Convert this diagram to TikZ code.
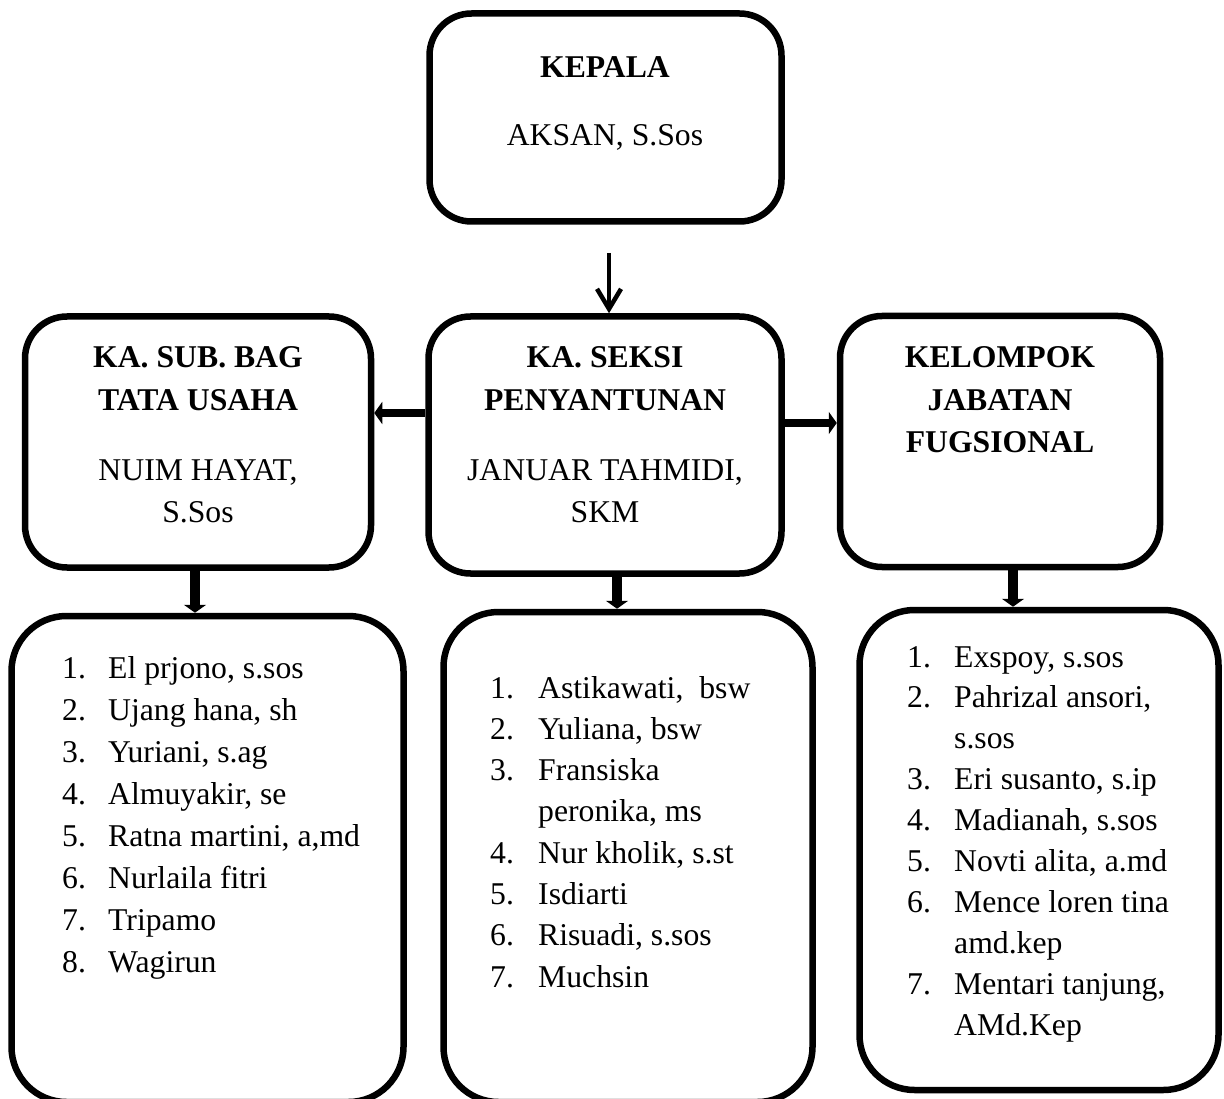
\documentclass[tikz,border=0pt]{standalone}
\usepackage{fontspec}
\setmainfont{Liberation Serif}
\usetikzlibrary{arrows.meta}
\newcommand\fsz{\fontsize{31.7}{42}\selectfont}
\begin{document}
\begin{tikzpicture}[x=1pt,y=-1pt,
  box/.style={draw, line width=6.5pt, rounded corners=42pt, inner sep=0pt, rectangle},
  lbox/.style={box, rounded corners=55pt},
  txt/.style={font=\fsz, anchor=base, inner sep=0pt},
  btxt/.style={font=\fsz\bfseries, anchor=base, inner sep=0pt},
  ltxt/.style={font=\fsz, anchor=base west, inner sep=0pt},
  thinarr/.style={line width=4.5pt, -{Straight Barb[length=20pt,width=24pt]}},
  fat/.style={line width=8pt, -{Triangle[length=8pt,width=22pt]}},
  fatv/.style={line width=10pt, -{Triangle[length=8pt,width=22pt]}}]
\useasboundingbox (0,0) rectangle (1224,1099);

% boxes
\node[box, minimum width=352pt, minimum height=208pt] (kepala) at (605.5,117.5) {};
\node[box, minimum width=346pt, minimum height=251pt] (sub) at (198,442) {};
\node[box, minimum width=353pt, minimum height=257pt] (seksi) at (605,445) {};
\node[box, minimum width=320pt, minimum height=251pt] (fung) at (1000,441.5) {};
\node[lbox, minimum width=392pt, minimum height=486pt] (list1) at (207.5,859) {};
\node[lbox, minimum width=369pt, minimum height=490pt] (list2) at (628,857) {};
\node[lbox, minimum width=359pt, minimum height=480pt] (list3) at (1039,850) {};

% heading texts
\node[btxt] (kt1) at (605,78) {KEPALA};
\node[txt] (kt2) at (605,146) {AKSAN, S.Sos};

\node[btxt] (st1) at (198,368) {KA. SUB. BAG};
\node[btxt] (st2) at (198,410) {TATA USAHA};
\node[txt] (st3) at (198,480) {NUIM HAYAT,};
\node[txt] (st4) at (198,522) {S.Sos};

\node[btxt] (pt1) at (605,368) {KA. SEKSI};
\node[btxt] (pt2) at (605,410) {PENYANTUNAN};
\node[txt] (pt3) at (605,480) {JANUAR TAHMIDI,};
\node[txt] (pt4) at (605,522) {SKM};

\node[btxt] (ft1) at (1000,368) {KELOMPOK};
\node[btxt] (ft2) at (1000,410) {JABATAN};
\node[btxt] (ft3) at (1000,452) {FUGSIONAL};

% lists
\foreach \n/\t [count=\k from 0] in {1./{El prjono, s.sos},2./{Ujang hana, sh},3./{Yuriani, s.ag},4./{Almuyakir, se},5./{Ratna martini, a,md},6./{Nurlaila fitri},7./{Tripamo},8./{Wagirun}}{
  \node[ltxt] (la\k) at (62,{678+42.1*\k}) {\n};
  \node[ltxt] (lb\k) at (108,{678+42.1*\k}) {\t};
}
\foreach \n/\t [count=\k from 0] in {1./{Astikawati,\ \ bsw},2./{Yuliana, bsw},3./{Fransiska},{}/{peronika, ms},4./{Nur kholik, s.st},5./{Isdiarti},6./{Risuadi, s.sos},7./{Muchsin}}{
  \node[ltxt] (ma\k) at (490,{698+41.3*\k}) {\n};
  \node[ltxt] (mb\k) at (538,{698+41.3*\k}) {\t};
}
\foreach \n/\t [count=\k from 0] in {1./{Exspoy, s.sos},2./{Pahrizal ansori,},{}/{s.sos},3./{Eri susanto, s.ip},4./{Madianah, s.sos},5./{Novti alita, a.md},6./{Mence loren tina},{}/{amd.kep},7./{Mentari tanjung,},{}/{AMd.Kep}}{
  \node[ltxt] (ra\k) at (907,{667+40.9*\k}) {\n};
  \node[ltxt] (rb\k) at (954,{667+40.9*\k}) {\t};
}

% connectors
\coordinate (ka) at (609,253);
\draw[thinarr] (ka) -- (seksi.north -| ka);
\coordinate (yl) at (0,413);
\draw[fat] (seksi.west |- yl) -- (sub.east |- yl);
\coordinate (yr) at (0,423);
\draw[fat] (seksi.east |- yr) -- (fung.west |- yr);
\coordinate (x1) at (195,0);
\draw[fatv] (sub.south -| x1) -- (list1.north -| x1);
\coordinate (x2) at (617,0);
\draw[fatv] (seksi.south -| x2) -- (list2.north -| x2);
\coordinate (x3) at (1013,0);
\draw[fatv] (fung.south -| x3) -- (list3.north -| x3);
\end{tikzpicture}
\end{document}
